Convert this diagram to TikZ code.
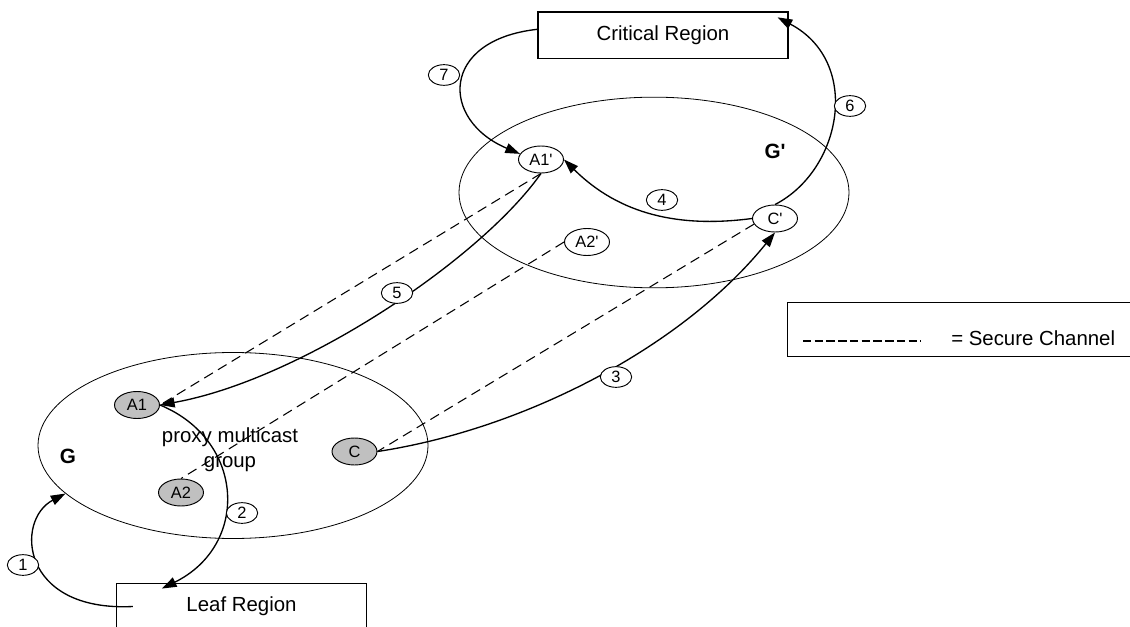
\documentclass[tikz,border=0pt]{standalone}
\usepackage{fontspec}
\setmainfont{Liberation Sans}
\usetikzlibrary{arrows.meta,shapes.geometric}
\definecolor{proxygray}{RGB}{192,192,192}
\newcommand{\prm}{\textquotesingle}
\begin{document}
\begin{tikzpicture}[x=0.75pt,y=-0.75pt,
  txt/.style={font=\fontsize{15.3}{18.5}\selectfont},
  region/.style={draw, line width=0.9pt, minimum width=187.5pt, minimum height=35pt, inner sep=0pt, txt},
  grp/.style={draw, ellipse, line width=0.6pt, inner sep=0pt, minimum width=292.5pt},
  member/.style={draw, ellipse, line width=0.7pt, fill=white, minimum width=33.75pt, minimum height=20.25pt, inner sep=0pt, font=\fontsize{12.3}{14}\selectfont},
  proxy/.style={member, fill=proxygray},
  numlab/.style={draw, ellipse, fill=white, line width=0.7pt, minimum width=23.5pt, minimum height=15.5pt, inner sep=0pt, font=\fontsize{12.3}{14}\selectfont},
  flow/.style={line width=1pt, -{Triangle[length=11pt,width=7.5pt]}},
  secure/.style={line width=0.8pt, dash pattern=on 7.5pt off 4.5pt},
  grplabel/.style={font=\fontsize{15.5}{18}\selectfont\bfseries}
]
\useasboundingbox (0,0) rectangle (1130,627);

% regions
\node[region] (crit) at (663,35.3) {Critical Region};
\node[region] (leaf) at (241.5,606.5) {Leaf Region};

% multicast groups
\node[grp, minimum height=143pt] (Gp) at (654,192.5) {};
\node[grp, minimum height=139.5pt] (G) at (233,445.5) {};
\node[grplabel] (Glab) at (68,456) {G};
\node[grplabel] (Gplab) at (775,151) {G\prm};
\node[txt, align=center] (pmg) at (230,450) {proxy multicast\\group};

% group members
\node[member] (A1p) at (541,159.5) {A1\prm};
\node[member] (A2p) at (587,242) {A2\prm};
\node[member] (Cp) at (775,218.5) {C\prm};
\node[proxy] (A1) at (137,405) {A1};
\node[proxy] (A2) at (181,492.5) {A2};
\node[proxy] (C) at (354.5,451.5) {C};

% secure channels
\draw[secure] (A1p.south) -- (A1.east);
\draw[secure] (A2p.west) -- (A2.north);
\draw[secure] (Cp.195) -- (C.east);

% message flow
\draw[flow] ([xshift=12.75pt]leaf.west) .. controls (20,612) and (15,520) .. (G.196);
\draw[flow] (A1.east) .. controls (245,440) and (250,545) .. ([xshift=34.5pt,yshift=-4.5pt]leaf.north west);
\draw[flow] (C.east) .. controls (520,430) and (680,350) .. (Cp.south);
\draw[flow] (Cp.west) .. controls (680,228) and (620,215) .. (A1p.east);
\draw[flow] (A1p.south) .. controls (480,260) and (300,380) .. (A1.east);
\draw[flow] (Cp.north) .. controls (842,170) and (862,62) .. ([xshift=-8.25pt,yshift=-4.5pt]crit.north east);
\draw[flow] ([yshift=4.5pt]crit.west) .. controls (440,40) and (440,120) .. (A1p.165);

% step numbers
\node[numlab] (n1) at (23,565) {1};
\node[numlab] (n2) at (242,513) {2};
\node[numlab] (n3) at (616,377) {3};
\node[numlab] (n4) at (662,200) {4};
\node[numlab] (n5) at (397,293) {5};
\node[numlab] (n6) at (850,106) {6};
\node[numlab] (n7) at (444,75) {7};

% legend
\node[draw, line width=0.9pt, anchor=north west, minimum width=265pt, minimum height=40.5pt, inner sep=0pt] (legend) at (787,302) {};
\coordinate (dashL) at (803,341);
\coordinate (dashR) at (921,341);
\draw[line width=0.9pt, dash pattern=on 6.3pt off 2.5pt] (dashL) -- (dashR);
\node[txt, anchor=base west, inner sep=0pt] (legtxt) at (951,345) {= Secure Channel};
\end{tikzpicture}
\end{document}
